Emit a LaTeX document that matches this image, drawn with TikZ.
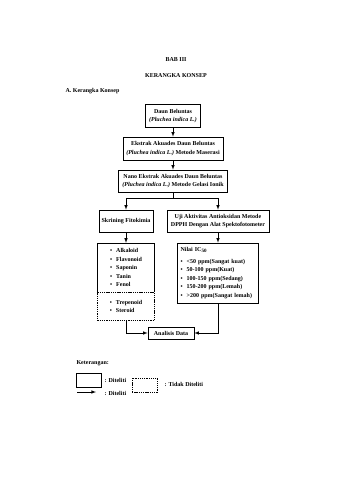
\documentclass[tikz,border=0pt]{standalone}
\usepackage{fontspec}
\setmainfont{Liberation Serif}
\begin{document}
\begin{tikzpicture}[>=latex, x=1pt, y=-1pt,
    font=\fontsize{6}{8.5}\selectfont\bfseries,
    kotak/.style={draw, line width=0.6pt, align=center, inner sep=2pt},
    putus/.style={draw, line width=0.6pt, dash pattern=on 1.3pt off 0.9pt},
    garis/.style={line width=0.6pt}]
    % Latar dan batas halaman
    \fill[white] (0,0) rectangle (340,480);
    \useasboundingbox (0,0) rectangle (340,480);

    % Judul
    \node (bab) at (176,60) {BAB III};
    \node (judul) at (176,76) {KERANGKA KONSEP};
    \node[anchor=west] (subjudul) at (62,91) {A. Kerangka Konsep};

    % Alur utama
    \node[kotak, minimum width=55, minimum height=23] (daun) at (173,116)
        {Daun Beluntas\\\textit{(Pluchea indica L.)}};
    \node[kotak, minimum width=100, minimum height=23] (ekstrak) at (173,148.5)
        {Ekstrak Akuades Daun Beluntas\\\textit{(Pluchea indica L.)} Metode Maserasi};
    \node[kotak, minimum width=109, minimum height=22] (nano) at (173,181)
        {Nano Ekstrak Akuades Daun Beluntas\\\textit{(Pluchea indica L.)} Metode Gelasi Ionik};
    \coordinate (cabang) at (173,198);

    \node[kotak, minimum width=54, minimum height=22] (skrining) at (126,221)
        {Skrining Fitokimia};
    \node[kotak, minimum width=102, minimum height=22] (uji) at (218,221)
        {Uji Aktivitas Antioksidan Metode\\DPPH Dengan Alat Spektofotometer};

    % Daftar senyawa
    \node[align=left, minimum width=57, minimum height=49] (diteliti) at (126,267.5)
        {\textbullet\hspace{4pt}Alkaloid\\\textbullet\hspace{4pt}Flavonoid\\\textbullet\hspace{4pt}Saponin\\\textbullet\hspace{4pt}Tanin\\\textbullet\hspace{4pt}Fenol};
    \draw[garis] (diteliti.south west) |- (diteliti.north east) -- (diteliti.south east);
    \node[putus, align=left, minimum width=57, minimum height=28, anchor=north] (tidak) at (diteliti.south)
        {\textbullet\hspace{4pt}Trepenoid\\\textbullet\hspace{4pt}Steroid\hspace{9pt}};

    % Nilai IC50
    \node[kotak, align=left, text width=75, minimum height=60, inner sep=3pt] (nilai) at (218,273)
        {Nilai IC\textsubscript{50}\\[3pt]
         \textbullet\hspace{4pt}<50 ppm(Sangat kuat)\\
         \textbullet\hspace{4pt}50-100 ppm(Kuat)\\
         \textbullet\hspace{4pt}100-150 ppm(Sedang)\\
         \textbullet\hspace{4pt}150-200 ppm(Lemah)\\
         \textbullet\hspace{4pt}>200 ppm(Sangat lemah)};

    \node[kotak, minimum width=46, minimum height=12] (analisis) at (171,333) {Analisis Data};

    % Panah
    \draw[garis, ->] (daun) -- (ekstrak);
    \draw[garis, ->] (ekstrak) -- (nano);
    \draw[garis] (nano) -- (cabang);
    \draw[garis, ->] (cabang) -| (skrining);
    \draw[garis, ->] (cabang) -| (uji);
    \draw[garis, ->] (skrining) -- (diteliti);
    \draw[garis, ->] (uji) -- (nilai);
    \draw[garis, ->] (tidak.south) |- (analisis.west);
    \draw[garis, ->] (nilai.south) |- (analisis.east);

    % Keterangan
    \node[anchor=west] (ket) at (73,363) {Keterangan:};
    \node[kotak, minimum width=25, minimum height=14] (lgkotak) at (88.5,380) {};
    \node[anchor=west] (lgteks1) at (101,380) {: Diteliti};
    \node[putus, minimum width=25, minimum height=14] (lgputus) at (144.5,385) {};
    \node[anchor=west] (lgteks2) at (161,384) {: Tidak Diteliti};
    \coordinate (lgawal) at (77,392);
    \coordinate (lgakhir) at (96,392);
    \draw[garis, ->] (lgawal) -- (lgakhir);
    \node[anchor=west] (lgteks3) at (101,393) {: Diteliti};
\end{tikzpicture}
\end{document}
